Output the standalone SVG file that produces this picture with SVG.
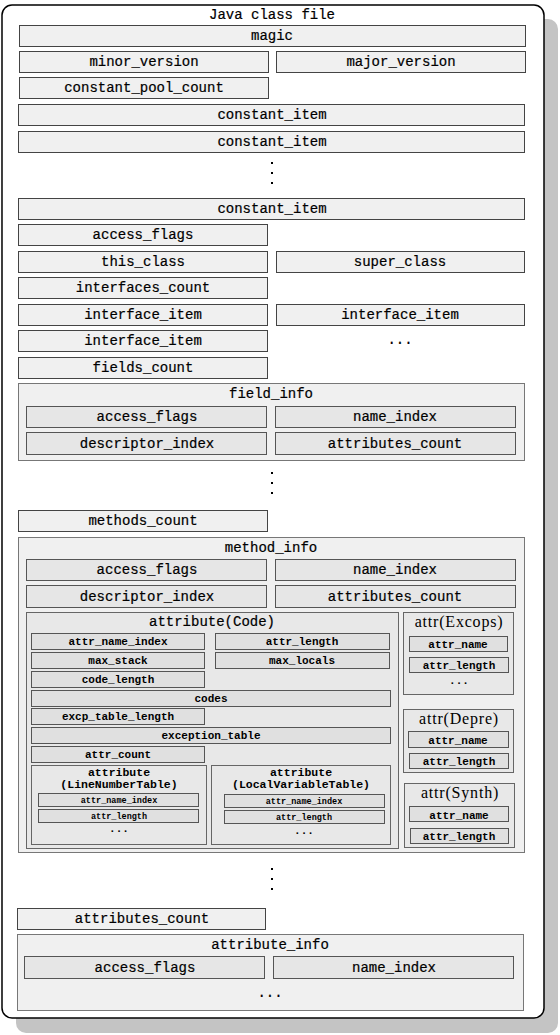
<svg xmlns="http://www.w3.org/2000/svg" width="560" height="1035" viewBox="0 0 560 1035">
<style>
text{font-family:"Liberation Mono","DejaVu Sans Mono",monospace;fill:#000;text-anchor:middle}
.t{font-size:14px;stroke:#000;stroke-width:0.2}
.b{fill:#f0f0f0;stroke:#444;stroke-width:1}
.c{fill:#f0f0f0;stroke:#777;stroke-width:1}
.i{fill:#e6e6e6;stroke:#555;stroke-width:1}
.k{fill:#e8e8e8;stroke:#666;stroke-width:1}
.s{fill:#e0e0e0;stroke:#555;stroke-width:1}
.sm{font-size:11px;font-weight:bold}
.xs{font-size:8.5px;font-weight:bold}
.st{font-size:11.5px;font-weight:bold}
.sf{font-family:"Liberation Serif","DejaVu Serif",serif;font-size:16px;letter-spacing:0.8px}
.dot{fill:#000}
</style>
<rect x="16" y="19" width="542" height="1014" rx="10" fill="#c4c4c4"/>
<rect x="2" y="5" width="542" height="1013" rx="10" fill="#fff" stroke="#000" stroke-width="1.5"/>
<text class="t" x="272" y="19">Java class file</text>
<g id="magic"><rect class="b" x="19.5" y="25.5" width="506" height="21"/><text class="t" x="272" y="40">magic</text></g>
<g id="minor_version"><rect class="b" x="19.5" y="51.5" width="249" height="21"/><text class="t" x="144" y="66">minor_version</text></g>
<g id="major_version"><rect class="b" x="276.5" y="51.5" width="249" height="21"/><text class="t" x="401" y="66">major_version</text></g>
<g id="constant_pool_count"><rect class="b" x="19.5" y="77.5" width="249" height="21"/><text class="t" x="144" y="92">constant_pool_count</text></g>
<g id="constant_item1"><rect class="b" x="18.5" y="104.5" width="506" height="21"/><text class="t" x="272" y="119">constant_item</text></g>
<g id="constant_item2"><rect class="b" x="18.5" y="131.5" width="506" height="21"/><text class="t" x="272" y="146">constant_item</text></g>
<g id="dots1"><rect class="dot" x="271" y="162" width="2" height="2"/><rect class="dot" x="271" y="172" width="2" height="2"/><rect class="dot" x="271" y="182" width="2" height="2"/></g>
<g id="constant_item3"><rect class="b" x="18.5" y="198.5" width="506" height="21"/><text class="t" x="272" y="213">constant_item</text></g>
<g id="access_flags"><rect class="b" x="18.5" y="224.5" width="249" height="21"/><text class="t" x="143" y="239">access_flags</text></g>
<g id="this_class"><rect class="b" x="18.5" y="251.5" width="249" height="21"/><text class="t" x="143" y="266">this_class</text></g>
<g id="super_class"><rect class="b" x="276.5" y="251.5" width="248" height="21"/><text class="t" x="400" y="266">super_class</text></g>
<g id="interfaces_count"><rect class="b" x="18.5" y="277.5" width="249" height="21"/><text class="t" x="143" y="292">interfaces_count</text></g>
<g id="interface_item1"><rect class="b" x="18.5" y="304.5" width="249" height="21"/><text class="t" x="143" y="319">interface_item</text></g>
<g id="interface_item2"><rect class="b" x="276.5" y="304.5" width="248" height="21"/><text class="t" x="400" y="319">interface_item</text></g>
<g id="interface_item3"><rect class="b" x="18.5" y="330.5" width="249" height="21"/><text class="t" x="143" y="345">interface_item</text></g>
<g id="dots_h1"><text class="t" x="400" y="344">...</text></g>
<g id="fields_count"><rect class="b" x="18.5" y="357.5" width="249" height="21"/><text class="t" x="143" y="372">fields_count</text></g>
<g id="field_info">
<rect class="c" x="18.5" y="383.5" width="506" height="77"/>
<text class="t" x="271" y="398">field_info</text>
<rect class="i" x="26.5" y="406.5" width="240" height="21"/><text class="t" x="147" y="421">access_flags</text>
<rect class="i" x="275.5" y="406.5" width="240" height="21"/><text class="t" x="395" y="421">name_index</text>
<rect class="i" x="26.5" y="432.5" width="240" height="22"/><text class="t" x="147" y="448">descriptor_index</text>
<rect class="i" x="275.5" y="432.5" width="240" height="22"/><text class="t" x="395" y="448">attributes_count</text>
</g>
<g id="dots2"><rect class="dot" x="271" y="472" width="2" height="2"/><rect class="dot" x="271" y="482" width="2" height="2"/><rect class="dot" x="271" y="492" width="2" height="2"/></g>
<g id="methods_count"><rect class="b" x="18.5" y="510.5" width="249" height="21"/><text class="t" x="143" y="525">methods_count</text></g>
<g id="method_info">
<rect class="c" x="18.5" y="537.5" width="506" height="315"/>
<text class="t" x="271" y="552">method_info</text>
<rect class="i" x="26.5" y="559.5" width="240" height="21"/><text class="t" x="147" y="574">access_flags</text>
<rect class="i" x="275.5" y="559.5" width="240" height="21"/><text class="t" x="395" y="574">name_index</text>
<rect class="i" x="26.5" y="585.5" width="240" height="22"/><text class="t" x="147" y="601">descriptor_index</text>
<rect class="i" x="275.5" y="585.5" width="240" height="22"/><text class="t" x="395" y="601">attributes_count</text>
</g>
<g id="attribute_code">
<rect class="k" x="26.5" y="612.5" width="372" height="236"/>
<text class="t" x="212" y="626">attribute(Code)</text>
<rect class="s" x="31.5" y="633.5" width="173" height="16"/><text class="sm" x="118" y="645">attr_name_index</text>
<rect class="s" x="215.5" y="633.5" width="174" height="16"/><text class="sm" x="302" y="645">attr_length</text>
<rect class="s" x="31.5" y="652.5" width="173" height="16"/><text class="sm" x="118" y="664">max_stack</text>
<rect class="s" x="215.5" y="652.5" width="174" height="16"/><text class="sm" x="302" y="664">max_locals</text>
<rect class="s" x="31.5" y="671.5" width="173" height="16"/><text class="sm" x="118" y="683">code_length</text>
<rect class="s" x="31.5" y="690.5" width="359" height="16"/><text class="sm" x="211" y="702">codes</text>
<rect class="s" x="31.5" y="708.5" width="173" height="16"/><text class="sm" x="118" y="720">excp_table_length</text>
<rect class="s" x="31.5" y="727.5" width="359" height="16"/><text class="sm" x="211" y="739">exception_table</text>
<rect class="s" x="31.5" y="746.5" width="173" height="16"/><text class="sm" x="118" y="758">attr_count</text>
</g>
<g id="attr_linenumbertable">
<rect class="k" x="31.5" y="765.5" width="175" height="79"/>
<text class="st" x="119" y="776">attribute</text>
<text class="st" x="119" y="788">(LineNumberTable)</text>
<rect class="s" x="38.5" y="793.5" width="160" height="13"/><text class="xs" x="119" y="803">attr_name_index</text>
<rect class="s" x="38.5" y="809.5" width="160" height="13"/><text class="xs" x="119" y="819">attr_length</text>
<text class="sm" x="119" y="832">...</text>
</g>
<g id="attr_localvariabletable">
<rect class="k" x="211.5" y="765.5" width="179" height="79"/>
<text class="st" x="301" y="776">attribute</text>
<text class="st" x="301" y="788">(LocalVariableTable)</text>
<rect class="s" x="224.5" y="794.5" width="160" height="13"/><text class="xs" x="304" y="804">attr_name_index</text>
<rect class="s" x="224.5" y="810.5" width="160" height="13"/><text class="xs" x="304" y="820">attr_length</text>
<text class="sm" x="304" y="834">...</text>
</g>
<g id="attr_excops">
<rect class="k" x="403.5" y="612.5" width="110" height="82"/>
<text class="sf" x="459" y="627">attr(Excops)</text>
<rect class="s" x="409.5" y="636.5" width="98" height="15"/><text class="sm" x="458" y="648">attr_name</text>
<rect class="s" x="409.5" y="657.5" width="99" height="15"/><text class="sm" x="459" y="669">attr_length</text>
<text class="sm" x="459" y="684">...</text>
</g>
<g id="attr_depre">
<rect class="k" x="403.5" y="709.5" width="110" height="63"/>
<text class="sf" x="459" y="724">attr(Depre)</text>
<rect class="s" x="408.5" y="731.5" width="100" height="16"/><text class="sm" x="458" y="744">attr_name</text>
<rect class="s" x="409.5" y="753.5" width="99" height="15"/><text class="sm" x="459" y="765">attr_length</text>
</g>
<g id="attr_synth">
<rect class="k" x="404.5" y="783.5" width="110" height="64"/>
<text class="sf" x="460" y="798">attr(Synth)</text>
<rect class="s" x="409.5" y="806.5" width="99" height="15"/><text class="sm" x="459" y="819">attr_name</text>
<rect class="s" x="410.5" y="828.5" width="98" height="15"/><text class="sm" x="459" y="840">attr_length</text>
</g>
<g id="dots3"><rect class="dot" x="271" y="868" width="2" height="2"/><rect class="dot" x="271" y="878" width="2" height="2"/><rect class="dot" x="271" y="888" width="2" height="2"/></g>
<g id="attributes_count"><rect class="b" x="17.5" y="908.5" width="248" height="21"/><text class="t" x="142" y="923">attributes_count</text></g>
<g id="attribute_info">
<rect class="c" x="17.5" y="934.5" width="506" height="76"/>
<text class="t" x="270" y="949">attribute_info</text>
<rect class="i" x="24.5" y="956.5" width="240" height="22"/><text class="t" x="145" y="972">access_flags</text>
<rect class="i" x="273.5" y="956.5" width="240" height="22"/><text class="t" x="394" y="972">name_index</text>
<text class="t" x="270" y="997">...</text>
</g>
</svg>
